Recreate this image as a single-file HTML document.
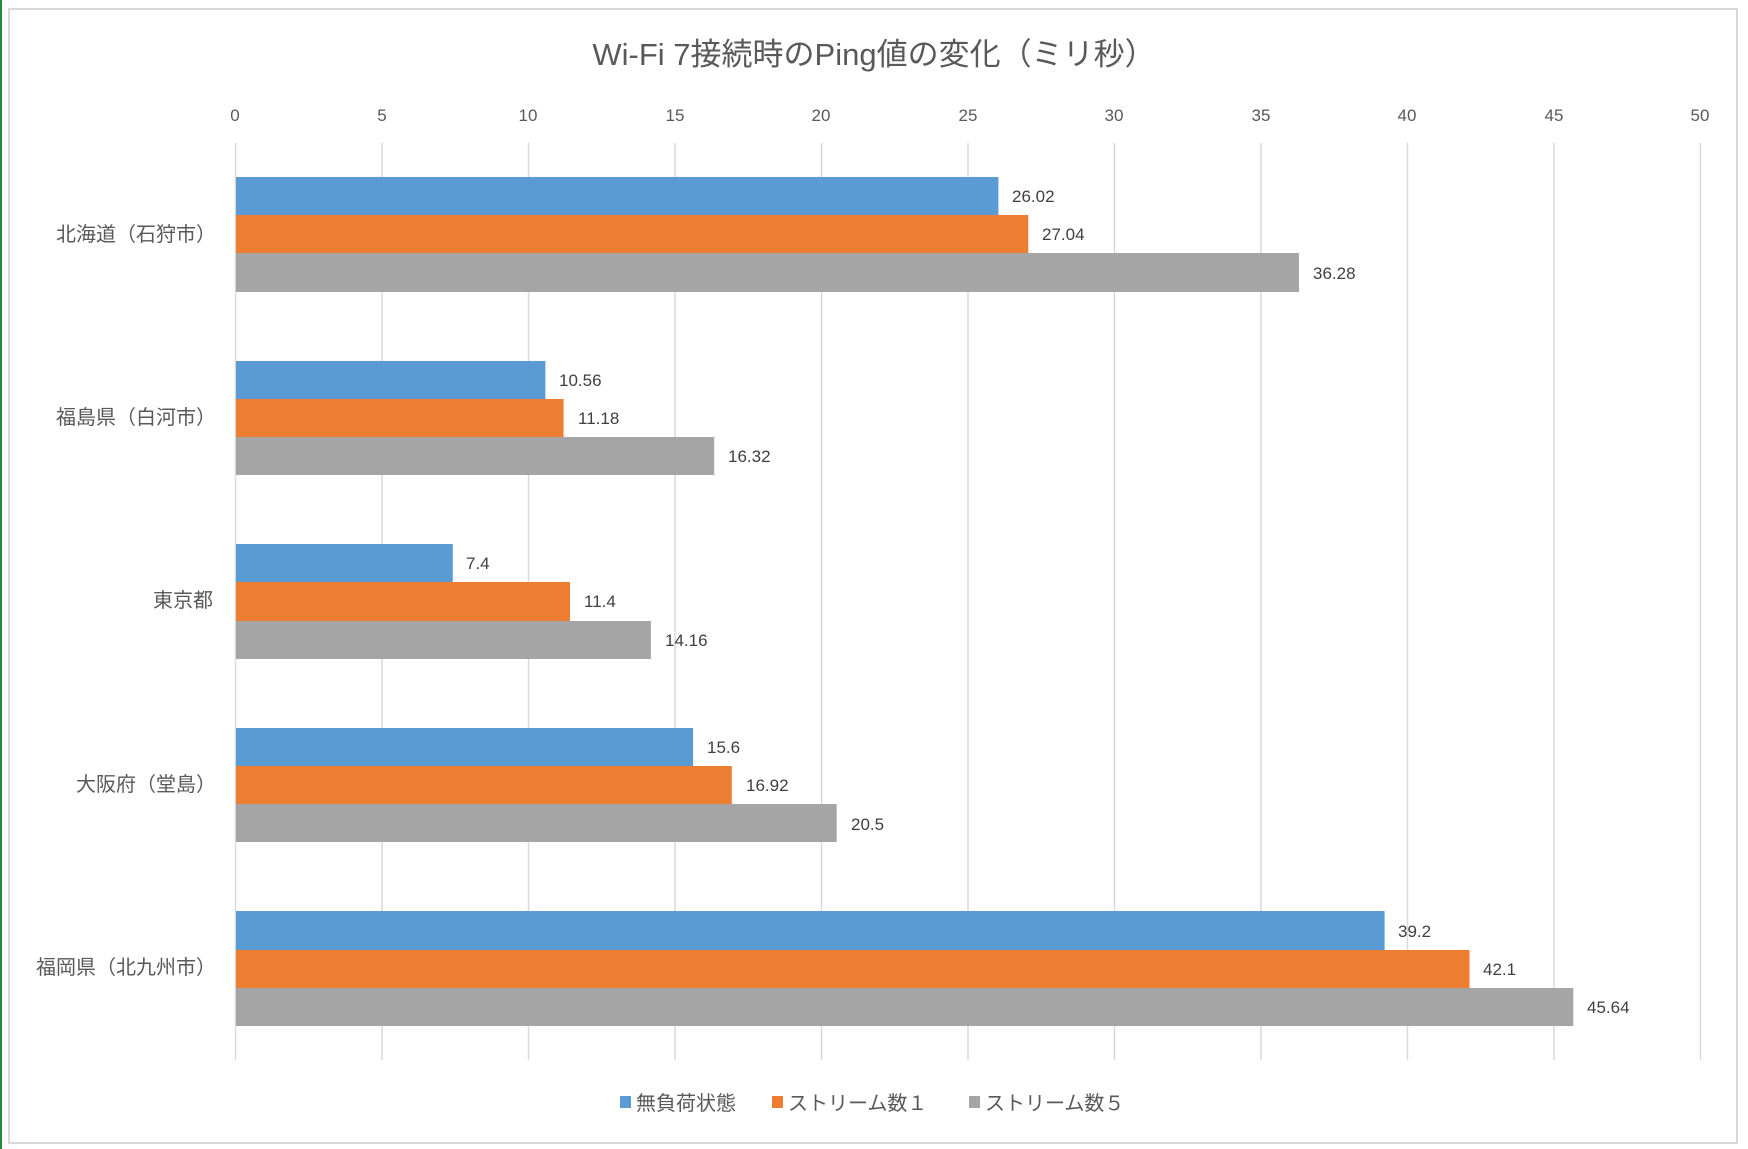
<!DOCTYPE html>
<html><head><meta charset="utf-8"><style>
html,body{margin:0;padding:0;background:#fff;}
svg{display:block;font-family:"Liberation Sans","Noto Sans CJK JP",sans-serif;}
</style></head><body>
<svg width="1748" height="1149" viewBox="0 0 1748 1149" xmlns="http://www.w3.org/2000/svg">
<rect x="0" y="0" width="1748" height="1149" fill="#fff"/>
<line x1="1" y1="0" x2="1" y2="1149" stroke="#1e8a3c" stroke-width="2"/>
<rect x="9" y="9" width="1728" height="1134" fill="#fff" stroke="#d9d9d9" stroke-width="2"/>
<text x="874" y="65" text-anchor="middle" font-size="31" fill="#595959">Wi-Fi 7接続時のPing値の変化（ミリ秒）</text>
<g stroke="#d9d9d9" stroke-width="1.5">
<line x1="235.5" y1="143" x2="235.5" y2="1060"/>
<line x1="382" y1="143" x2="382" y2="1060"/>
<line x1="528.5" y1="143" x2="528.5" y2="1060"/>
<line x1="675" y1="143" x2="675" y2="1060"/>
<line x1="821.5" y1="143" x2="821.5" y2="1060"/>
<line x1="968" y1="143" x2="968" y2="1060"/>
<line x1="1114.5" y1="143" x2="1114.5" y2="1060"/>
<line x1="1261" y1="143" x2="1261" y2="1060"/>
<line x1="1407.5" y1="143" x2="1407.5" y2="1060"/>
<line x1="1554" y1="143" x2="1554" y2="1060"/>
<line x1="1700.5" y1="143" x2="1700.5" y2="1060"/>
</g>
<g font-size="17" fill="#595959" text-anchor="middle">
<text x="235" y="121">0</text><text x="382" y="121">5</text><text x="528" y="121">10</text><text x="675" y="121">15</text><text x="821" y="121">20</text><text x="968" y="121">25</text><text x="1114" y="121">30</text><text x="1261" y="121">35</text><text x="1407" y="121">40</text><text x="1554" y="121">45</text><text x="1700" y="121">50</text>
</g>
<g font-size="20" fill="#595959" text-anchor="end">
<text x="216" y="241">北海道（石狩市）</text>
<text x="216" y="424">福島県（白河市）</text>
<text x="213" y="607">東京都</text>
<text x="216" y="791">大阪府（堂島）</text>
<text x="216" y="974">福岡県（北九州市）</text>
</g>
<g>
<rect x="236" y="177" width="762.4" height="38" fill="#5b9bd5"/>
<rect x="236" y="215" width="792.3" height="38" fill="#ed7d31"/>
<rect x="236" y="253" width="1063" height="39" fill="#a5a5a5"/>
<rect x="236" y="361" width="309.4" height="38" fill="#5b9bd5"/>
<rect x="236" y="399" width="327.6" height="38" fill="#ed7d31"/>
<rect x="236" y="437" width="478.2" height="38" fill="#a5a5a5"/>
<rect x="236" y="544" width="216.8" height="38" fill="#5b9bd5"/>
<rect x="236" y="582" width="334" height="39" fill="#ed7d31"/>
<rect x="236" y="621" width="414.9" height="38" fill="#a5a5a5"/>
<rect x="236" y="728" width="457.1" height="38" fill="#5b9bd5"/>
<rect x="236" y="766" width="495.8" height="38" fill="#ed7d31"/>
<rect x="236" y="804" width="600.7" height="38" fill="#a5a5a5"/>
<rect x="236" y="911" width="1148.6" height="39" fill="#5b9bd5"/>
<rect x="236" y="950" width="1233.5" height="38" fill="#ed7d31"/>
<rect x="236" y="988" width="1337.3" height="38" fill="#a5a5a5"/>
</g>
<g font-size="17" fill="#404040">
<text x="1012" y="202">26.02</text>
<text x="1042" y="240">27.04</text>
<text x="1313" y="279">36.28</text>
<text x="559" y="386">10.56</text>
<text x="578" y="424">11.18</text>
<text x="728" y="462">16.32</text>
<text x="466" y="569">7.4</text>
<text x="584" y="607">11.4</text>
<text x="665" y="646">14.16</text>
<text x="707" y="753">15.6</text>
<text x="746" y="791">16.92</text>
<text x="851" y="830">20.5</text>
<text x="1398" y="937">39.2</text>
<text x="1483" y="975">42.1</text>
<text x="1587" y="1013">45.64</text>
</g>
<g font-size="20" fill="#595959">
<rect x="620" y="1096" width="11" height="12" fill="#5b9bd5"/>
<text x="636" y="1110">無負荷状態</text>
<rect x="772" y="1096" width="11" height="12" fill="#ed7d31"/>
<text x="788" y="1110">ストリーム数１</text>
<rect x="969" y="1096" width="11" height="12" fill="#a5a5a5"/>
<text x="985" y="1110">ストリーム数５</text>
</g>
</svg>
</body></html>
